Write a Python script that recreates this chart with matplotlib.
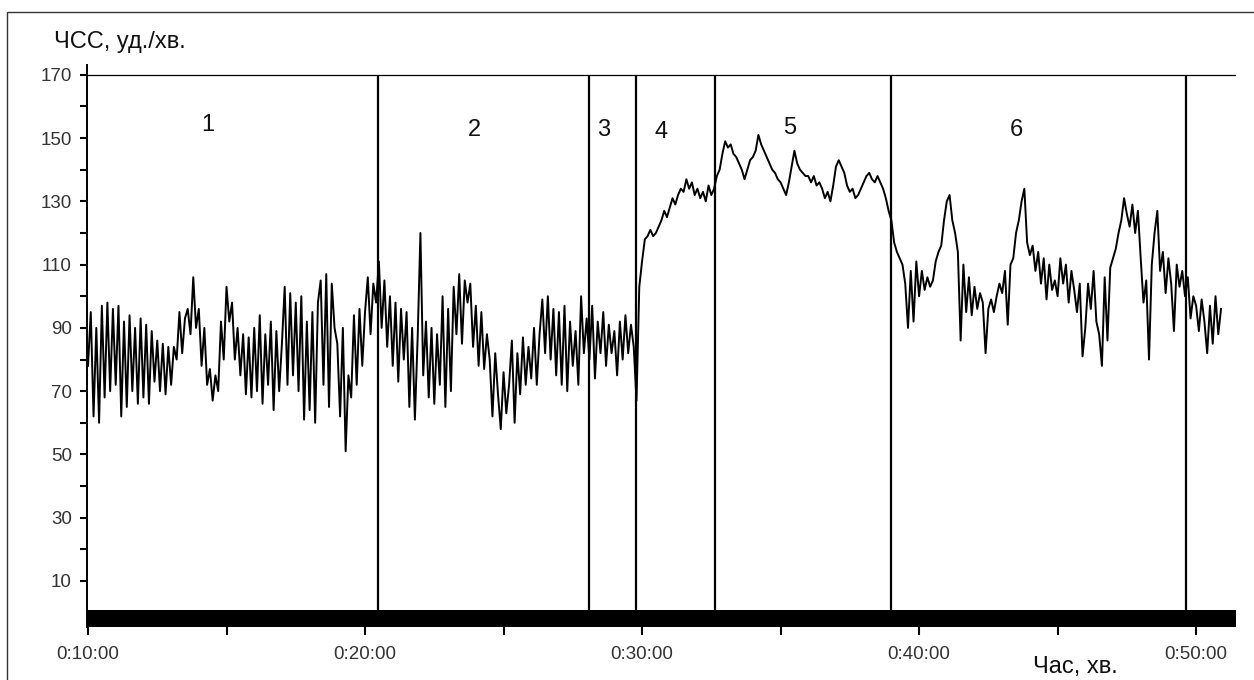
import numpy as np
import matplotlib.pyplot as plt
from matplotlib.patches import Rectangle
from matplotlib.ticker import FixedLocator, FuncFormatter

# ЧСС, уд./хв. -- one row per minute, step 0.1 min, starting 0:10:00
hr_rows = [
    [78, 95, 62, 90, 60, 97, 68, 98, 70, 96],            # 10
    [72, 97, 62, 92, 65, 94, 70, 90, 66, 93],            # 11
    [68, 91, 66, 89, 73, 86, 70, 85, 69, 84],            # 12
    [72, 84, 80, 95, 82, 93, 96, 88, 106, 90],           # 13
    [96, 78, 90, 72, 77, 67, 75, 70, 92, 80],            # 14
    [103, 92, 98, 80, 90, 75, 88, 69, 87, 68],           # 15
    [90, 70, 94, 66, 88, 72, 92, 64, 89, 70],            # 16
    [85, 103, 72, 101, 75, 98, 70, 100, 61, 92],         # 17
    [64, 95, 60, 98, 105, 72, 107, 65, 104, 90],         # 18
    [85, 62, 90, 51, 75, 68, 94, 72, 96, 78],            # 19
    [95, 106, 88, 104, 98, 111, 90, 105, 84, 100],       # 20
    [78, 98, 73, 96, 80, 95, 65, 90, 61, 87],            # 21
    [120, 75, 92, 68, 90, 66, 88, 72, 100, 65],          # 22
    [96, 70, 103, 88, 107, 85, 105, 98, 104, 84],        # 23
    [97, 78, 95, 77, 88, 80, 62, 82, 69, 58],            # 24
    [76, 63, 72, 86, 60, 82, 69, 87, 72, 84],            # 25
    [74, 90, 72, 88, 99, 82, 100, 80, 96, 75],           # 26
    [95, 72, 97, 70, 92, 78, 89, 72, 100, 82],           # 27
    [93, 80, 97, 74, 92, 82, 95, 78, 91, 82],            # 28
    [89, 75, 92, 80, 94, 82, 91, 84, 67, 103],           # 29
    [111, 118, 119, 121, 119, 120, 122, 124, 127, 125],  # 30
    [128, 131, 129, 132, 134, 133, 137, 134, 136, 132],  # 31
    [134, 131, 133, 130, 135, 132, 134, 138, 140, 145],  # 32
    [149, 147, 148, 145, 144, 142, 140, 137, 140, 143],  # 33
    [144, 146, 151, 148, 146, 144, 142, 140, 139, 137],  # 34
    [136, 134, 132, 136, 141, 146, 142, 140, 139, 138],  # 35
    [138, 136, 138, 135, 136, 134, 131, 133, 130, 135],  # 36
    [141, 143, 141, 139, 135, 133, 134, 131, 132, 134],  # 37
    [136, 138, 139, 137, 136, 138, 136, 134, 131, 127],  # 38
    [124, 117, 114, 112, 110, 104, 90, 108, 92, 111],    # 39
    [100, 108, 102, 106, 103, 105, 111, 114, 116, 124],  # 40
    [130, 132, 124, 120, 114, 86, 110, 95, 106, 94],     # 41
    [103, 96, 101, 98, 82, 96, 99, 95, 100, 104],        # 42
    [101, 108, 91, 110, 112, 120, 124, 130, 134, 117],   # 43
    [113, 116, 108, 114, 104, 112, 99, 110, 102, 105],   # 44
    [100, 112, 104, 110, 98, 108, 102, 95, 104, 81],     # 45
    [90, 104, 96, 108, 92, 88, 78, 106, 86, 109],        # 46
    [112, 115, 120, 124, 131, 126, 122, 129, 120, 127],  # 47
    [112, 98, 105, 80, 110, 120, 127, 108, 114, 101],    # 48
    [112, 104, 89, 110, 103, 108, 100, 106, 93, 100],    # 49
    [97, 89, 99, 92, 82, 97, 85, 100, 88, 96],           # 50
]
t_start = 10.0   # хв.
t_step = 0.1

# межі етапів (хв.) та підписи
borders = [20.47, 28.09, 29.78, 32.64, 38.99, 49.64]
stage_labels = ['1', '2', '3', '4', '5', '6']
stage_x = [14.33, 23.94, 28.63, 30.69, 35.34, 43.5]
stage_y = [154.2, 152.6, 152.6, 151.8, 153.2, 152.6]

y_major = [10, 30, 50, 70, 90, 110, 130, 150, 170]
y_minor = [20, 40, 60, 80, 100, 120, 140, 160]
x_major = [10, 20, 30, 40, 50]
x_minor = [15, 25, 35, 45]

hr = np.array([v for row in hr_rows for v in row], dtype=float)
t = t_start + t_step * np.arange(len(hr))

plt.rcParams['font.family'] = ['Liberation Sans', 'DejaVu Sans']

fig = plt.figure(figsize=(12.54, 6.8), dpi=100)
ax = fig.add_axes([87/1254, 1 - 627/680, (1236 - 87)/1254, (627 - 65)/680])

ax.set_xlim(9.964, 51.44)
ax.set_ylim(-4.55, 173.1)

ax.plot(t, hr, color='black', lw=1.4)
ax.axhline(170, color='black', lw=0.9)
ax.vlines(borders, 0, 170, color='black', lw=1.6)
ax.axhspan(-4.55, 0.8, color='black', lw=0)

for lab, x, y in zip(stage_labels, stage_x, stage_y):
    ax.text(x, y, lab, fontsize=17, ha='center', va='center', color='#111')

for s in ['top', 'right', 'bottom']:
    ax.spines[s].set_visible(False)
ax.spines['left'].set_linewidth(1.4)

ax.yaxis.set_major_locator(FixedLocator(y_major))
ax.yaxis.set_minor_locator(FixedLocator(y_minor))
ax.xaxis.set_major_locator(FixedLocator(x_major))
ax.xaxis.set_minor_locator(FixedLocator(x_minor))
ax.xaxis.set_major_formatter(FuncFormatter(lambda v, p: '0:%02d:00' % int(round(v))))

ax.tick_params(axis='y', which='both', direction='out', length=5, width=1.5,
               labelsize=13.5, labelcolor='#333', pad=6)
ax.tick_params(axis='x', which='both', direction='out', length=6, width=1.5,
               labelsize=13.5, labelcolor='#333', pad=8)

fig.text(54/1254, 1 - 48/680, 'ЧСС, уд./хв.', fontsize=17, va='baseline', color='#111')
fig.text(1033/1254, 1 - 673/680, 'Час, хв.', fontsize=17, va='baseline', color='#111')

# рамка навколо рисунка
fig.patches.append(Rectangle((7/1254, -0.05), 1.2, 1 - 12/680 + 0.05,
                             transform=fig.transFigure, fill=False,
                             edgecolor='#333', lw=1.0))

plt.savefig('out.png', dpi=100)
